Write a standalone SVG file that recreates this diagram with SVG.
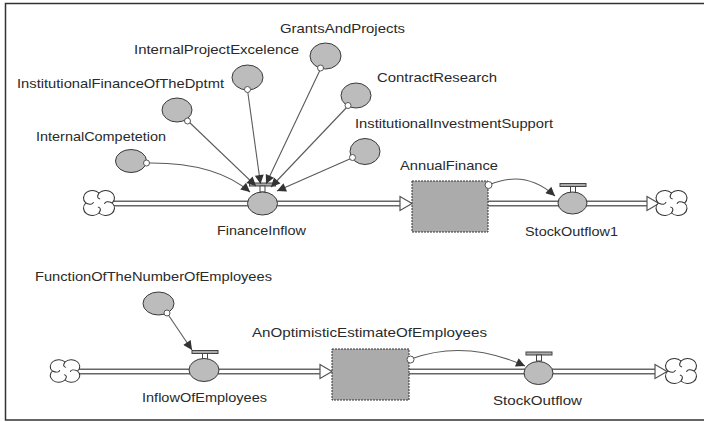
<svg xmlns="http://www.w3.org/2000/svg" width="704" height="422" viewBox="0 0 704 422">
<style>
text{font-family:"Liberation Sans",Arial,sans-serif;font-size:13px;fill:#2a2a2a}
.lbl{text-anchor:middle}
.aux{fill:#bcbcbc;stroke:#3a3a3a;stroke-width:1}
.stock{fill:#ababab;stroke:#333;stroke-width:1;stroke-dasharray:2 1}
.pipeO{fill:none;stroke:#666;stroke-width:6}
.pipeI{fill:none;stroke:#fff;stroke-width:3}
.head{fill:#fff;stroke:#555;stroke-width:1.2}
.conn{fill:none;stroke:#5a5a5a;stroke-width:1.1;marker-end:url(#ah)}
.orig{fill:#fff;stroke:#555;stroke-width:1}
.bar{fill:#aaa;stroke:#444;stroke-width:1}
.cloud{fill:#fff;stroke:#333;stroke-width:1}
</style>
<defs>
<marker id="ah" viewBox="0 0 10 10" refX="10" refY="5" markerWidth="11" markerHeight="9" markerUnits="userSpaceOnUse" orient="auto">
<path d="M0,0 L10,5 L0,10 Z" fill="#333"/>
</marker>
<g id="cloudShape">
<path class="cloud" d="M-12,0 A6.5,6 0 0 1 0,-10 A6.5,6 0 0 1 12,0 A6.5,6 0 0 1 0,10 A6.5,6 0 0 1 -12,0 Z"/>
<path fill="none" stroke="#333" stroke-width="1" d="M0,-10 Q-3,-5 1,-4 M12,0 Q6,-3 5,1 M0,10 Q3,5 -1,4 M-12,0 Q-6,3 -5,-1"/>
</g>
<g id="valveTop">
<rect class="bar" x="-13" y="-20" width="26" height="3"/>
<rect x="-2.5" y="-17" width="5" height="6" fill="#fff" stroke="#444" stroke-width="1"/>
</g>
</defs>
<rect width="704" height="422" fill="#fff"/>
<path d="M706,3.5 H5.5 V420 H706" fill="none" stroke="#333" stroke-width="1.5"/>

<g id="flows">
<path class="pipeO" d="M111,203.5 H401 M488,203.5 H648"/>
<path class="pipeI" d="M111,203.5 H402 M488,203.5 H649"/>
<polygon class="head" points="400,196.5 412,203.5 400,210.5"/>
<polygon class="head" points="647,196.5 659,203.5 647,210.5"/>
<path class="pipeO" d="M77,371.5 H321 M409,371.5 H656"/>
<path class="pipeI" d="M77,371.5 H322 M409,371.5 H657"/>
<polygon class="head" points="320,364.5 332,371.5 320,378.5"/>
<polygon class="head" points="655,364.5 667,371.5 655,378.5"/>
</g>

<g id="cloud1" transform="translate(99,203) scale(1.1,1)"><use href="#cloudShape"/></g>
<g id="cloud2" transform="translate(671.5,203) scale(1.1,1)"><use href="#cloudShape"/></g>
<g id="cloud3" transform="translate(65,371) scale(1.05,0.9)"><use href="#cloudShape"/></g>
<g id="cloud4" transform="translate(681,371) scale(1.1,1)"><use href="#cloudShape"/></g>

<g id="InternalCompetetion">
<ellipse class="aux" cx="131" cy="161" rx="15.5" ry="11.5"/>
<text class="lbl" x="101" y="141" textLength="130" lengthAdjust="spacingAndGlyphs">InternalCompetetion</text>
</g>
<g id="InstitutionalFinanceOfTheDptmt">
<ellipse class="aux" cx="177" cy="110" rx="15" ry="12"/>
<text class="lbl" x="120.5" y="88" textLength="207" lengthAdjust="spacingAndGlyphs">InstitutionalFinanceOfTheDptmt</text>
</g>
<g id="InternalProjectExcelence">
<ellipse class="aux" cx="247.5" cy="77.5" rx="15.5" ry="12.5"/>
<text class="lbl" x="216.5" y="54" textLength="165" lengthAdjust="spacingAndGlyphs">InternalProjectExcelence</text>
</g>
<g id="GrantsAndProjects">
<ellipse class="aux" cx="325.5" cy="56" rx="15.5" ry="13"/>
<text class="lbl" x="342.5" y="33" textLength="125" lengthAdjust="spacingAndGlyphs">GrantsAndProjects</text>
</g>
<g id="ContractResearch">
<ellipse class="aux" cx="356" cy="95.5" rx="15" ry="12.5"/>
<text class="lbl" x="437" y="82" textLength="120" lengthAdjust="spacingAndGlyphs">ContractResearch</text>
</g>
<g id="InstitutionalInvestmentSupport">
<ellipse class="aux" cx="365" cy="151.5" rx="15" ry="13"/>
<text class="lbl" x="454" y="128" textLength="198" lengthAdjust="spacingAndGlyphs">InstitutionalInvestmentSupport</text>
</g>

<g id="FinanceInflow">
<use href="#valveTop" transform="translate(262.5,203)"/>
<ellipse class="aux" cx="262.5" cy="203.5" rx="15" ry="11.5"/>
<text class="lbl" x="261.5" y="235" textLength="89" lengthAdjust="spacingAndGlyphs">FinanceInflow</text>
</g>
<g id="AnnualFinance">
<rect class="stock" x="412" y="181" width="76" height="51"/>
<text class="lbl" x="449" y="170" textLength="98" lengthAdjust="spacingAndGlyphs">AnnualFinance</text>
</g>
<g id="StockOutflow1">
<use href="#valveTop" transform="translate(573,203.5)"/>
<ellipse class="aux" cx="572.5" cy="203" rx="14.5" ry="11"/>
<text class="lbl" x="571.5" y="236" textLength="93" lengthAdjust="spacingAndGlyphs">StockOutflow1</text>
</g>

<g id="FunctionOfTheNumberOfEmployees">
<ellipse class="aux" cx="158.5" cy="303.5" rx="15.5" ry="11.5"/>
<text class="lbl" x="153.5" y="281" textLength="237" lengthAdjust="spacingAndGlyphs">FunctionOfTheNumberOfEmployees</text>
</g>
<g id="InflowOfEmployees">
<use href="#valveTop" transform="translate(205,370.5)"/>
<ellipse class="aux" cx="204" cy="370" rx="15" ry="11.5"/>
<text class="lbl" x="204.5" y="402" textLength="125" lengthAdjust="spacingAndGlyphs">InflowOfEmployees</text>
</g>
<g id="AnOptimisticEstimateOfEmployees">
<rect class="stock" x="332" y="349" width="77" height="51"/>
<text class="lbl" x="369.5" y="337" textLength="235" lengthAdjust="spacingAndGlyphs">AnOptimisticEstimateOfEmployees</text>
</g>
<g id="StockOutflow">
<use href="#valveTop" transform="translate(539,372)"/>
<ellipse class="aux" cx="538.5" cy="373" rx="14.5" ry="11.5"/>
<text class="lbl" x="537.5" y="405" textLength="89" lengthAdjust="spacingAndGlyphs">StockOutflow</text>
</g>

<g id="connectors">
<path class="conn" d="M147,163 Q215,162 250,192"/>
<path class="conn" d="M188,121 L256,186"/>
<path class="conn" d="M247.5,90 L260.5,184"/>
<path class="conn" d="M321,68 L266,184"/>
<path class="conn" d="M348,106 L271,187"/>
<path class="conn" d="M352,158 L277,191"/>
<path class="conn" d="M489,185 Q525,169 555,196"/>
<path class="conn" d="M167,313 L192,350"/>
<path class="conn" d="M411,359 Q465,339 525,366"/>
<circle class="orig" cx="146.5" cy="163" r="3"/>
<circle class="orig" cx="187.5" cy="121" r="3"/>
<circle class="orig" cx="247.5" cy="89.5" r="3"/>
<circle class="orig" cx="320.5" cy="68" r="3"/>
<circle class="orig" cx="348" cy="105.5" r="3"/>
<circle class="orig" cx="352.5" cy="157.5" r="3"/>
<circle class="orig" cx="488.5" cy="185" r="3.5"/>
<circle class="orig" cx="167" cy="313" r="3"/>
<circle class="orig" cx="410.5" cy="359.5" r="3.5"/>
</g>
</svg>
